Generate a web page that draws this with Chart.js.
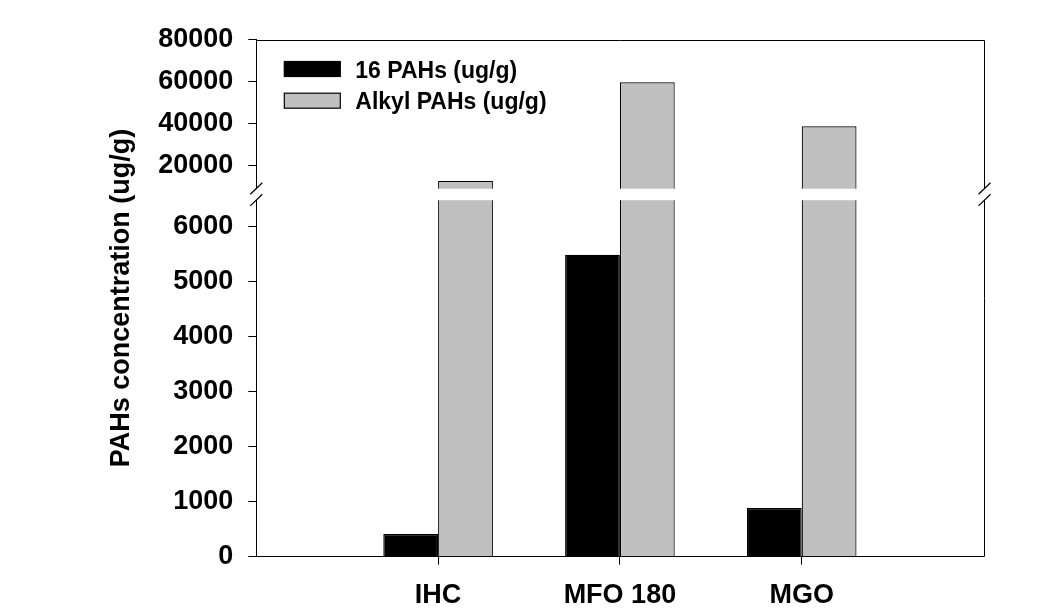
<!DOCTYPE html>
<html>
<head>
<meta charset="utf-8">
<script src="https://cdn.jsdelivr.net/npm/chart.js@4/dist/chart.umd.min.js"></script>
<style>
  html, body { margin: 0; padding: 0; background: #fff; }
  #wrap { width: 1052px; height: 611px; }
</style>
</head>
<body>
<div id="wrap"><canvas id="pahChart"></canvas></div>
<script>
// data
var categories = ['IHC', 'MFO 180', 'MGO'];
var pahs16 = [413, 5490, 885];
var alkylPahs = [12500, 59600, 38600];
var lowerTicks = [0, 1000, 2000, 3000, 4000, 5000, 6000];
var upperTicks = [20000, 40000, 60000, 80000];

// blank slots at both ends so the groups sit at 1/4, 2/4, 3/4 of the width
var labels = [''].concat(categories, ['']);
function pad(arr) { return [null].concat(arr, [null]); }

var tickFont = { family: 'Liberation Sans', size: 27, weight: 'bold' };

var breakPlugin = {
    id: 'breakPlugin',
    beforeDatasetDraw: function(chart, args) {
        var ys = args.meta.yScale, area = chart.chartArea;
        chart.ctx.save();
        chart.ctx.beginPath();
        chart.ctx.rect(area.left, ys.top, area.right - area.left, ys.bottom - ys.top);
        chart.ctx.clip();
    },
    afterDatasetDraw: function(chart) {
        chart.ctx.restore();
    },
    afterDraw: function(chart) {
        var ctx = chart.ctx, area = chart.chartArea;
        var yb = chart.scales.y.top + 0.5;
        ctx.save();
        ctx.strokeStyle = '#000';
        ctx.lineWidth = 1;
        // top + right frame
        var r = Math.round(area.right) + 0.5, t = Math.round(area.top) + 0.5;
        ctx.beginPath();
        ctx.moveTo(area.left, t);
        ctx.lineTo(r, t);
        ctx.lineTo(r, area.bottom);
        ctx.stroke();
        // white gap across the break
        ctx.fillStyle = '#fff';
        ctx.fillRect(area.left - 2, yb - 5.5, area.right - area.left + 4, 11.5);
        // break marks on both axes
        ctx.lineWidth = 1.2;
        [area.left, r].forEach(function(x) {
            ctx.beginPath();
            ctx.moveTo(x - 6, yb);
            ctx.lineTo(x + 6, yb - 11.5);
            ctx.moveTo(x - 6, yb + 11.7);
            ctx.lineTo(x + 6, yb);
            ctx.stroke();
        });

        // legend inside the plot, top-left
        ctx.lineWidth = 1.2;
        ctx.font = 'bold 23px "Liberation Sans"';
        ctx.textBaseline = 'alphabetic';
        ctx.textAlign = 'left';
        chart.data.datasets.slice(0, 2).forEach(function(ds, i) {
            var bx = area.left + 28, by = area.top + 22 + i * 31.7;
            ctx.fillStyle = ds.backgroundColor;
            ctx.fillRect(bx, by, 56, 15);
            ctx.strokeStyle = ds.borderColor;
            ctx.strokeRect(bx, by, 56, 15);
            ctx.fillStyle = '#000';
            ctx.fillText(ds.label, bx + 71, by + 16);
        });
        ctx.restore();
    }
};

function fixTicks(values) {
    return function(scale) {
        scale.ticks = values.map(function(v) { return { value: v }; });
    };
}

function yTicks() {
    return {
        color: '#000',
        font: tickFont,
        padding: 15,
        autoSkip: false,
        callback: function(v) { return String(v); }
    };
}

new Chart(document.getElementById('pahChart'), {
    type: 'bar',
    data: {
        labels: labels,
        datasets: [
            {
                label: '16 PAHs (ug/g)',
                data: pad(pahs16),
                yAxisID: 'y',
                stack: 'a',
                backgroundColor: '#000000',
                borderColor: '#000000',
                borderWidth: 1.2
            },
            {
                label: 'Alkyl PAHs (ug/g)',
                data: pad(alkylPahs),
                yAxisID: 'y',
                stack: 'b',
                backgroundColor: '#c0c0c0',
                borderColor: '#000000',
                borderWidth: 1.2
            },
            {
                label: 'Alkyl PAHs upper',
                data: pad(alkylPahs),
                yAxisID: 'y2',
                stack: 'b',
                backgroundColor: '#c0c0c0',
                borderColor: '#000000',
                borderWidth: 1.2
            }
        ]
    },
    options: {
        animation: false,
        responsive: true,
        maintainAspectRatio: false,
        devicePixelRatio: 1,
        layout: {
            padding: { left: 90, right: 68.5, top: 39.5, bottom: 1.5 }
        },
        datasets: {
            bar: {
                categoryPercentage: 0.603,
                barPercentage: 1.0
            }
        },
        plugins: {
            tooltip: { enabled: false },
            legend: { display: false },
            title: {
                display: true,
                position: 'left',
                fullSize: false,
                text: 'PAHs concentration (ug/g)',
                color: '#000',
                font: { family: 'Liberation Sans', size: 27, weight: 'bold', lineHeight: 1.2 },
                padding: { top: 15, bottom: 5 }
            }
        },
        scales: {
            x: {
                type: 'category',
                offset: false,
                border: { color: '#000', width: 1 },
                grid: {
                    offset: false,
                    drawOnChartArea: false,
                    drawTicks: true,
                    tickLength: 8,
                    color: function(ctx) {
                        return ctx.tick && ctx.tick.label ? '#000' : 'rgba(0,0,0,0)';
                    }
                },
                ticks: {
                    color: '#000',
                    font: tickFont,
                    padding: 15,
                    maxRotation: 0,
                    autoSkip: false
                },
                afterFit: function(scale) { scale.height = 52.8; }
            },
            y: {
                type: 'linear',
                position: 'left',
                stack: 'yStack',
                stackWeight: 363,
                stacked: false,
                min: 0,
                max: 6600,
                border: { color: '#000', width: 1 },
                grid: { drawOnChartArea: false, tickLength: 8, color: '#000' },
                ticks: yTicks(),
                afterBuildTicks: fixTicks(lowerTicks),
                afterFit: function(scale) { scale.width = 113.9; }
            },
            y2: {
                type: 'linear',
                position: 'left',
                stack: 'yStack',
                stackWeight: 154.2,
                stacked: false,
                min: 6400,
                max: 80000,
                border: { color: '#000', width: 1 },
                grid: { drawOnChartArea: false, tickLength: 8, color: '#000' },
                ticks: yTicks(),
                afterBuildTicks: fixTicks(upperTicks),
                afterFit: function(scale) { scale.width = 113.9; }
            }
        }
    },
    plugins: [breakPlugin, {
        id: 'whiteBg',
        beforeDraw: function(chart) {
            var ctx = chart.canvas.getContext('2d');
            ctx.save();
            ctx.globalCompositeOperation = 'destination-over';
            ctx.fillStyle = 'white';
            ctx.fillRect(0, 0, chart.canvas.width, chart.canvas.height);
            ctx.restore();
        }
    }]
});
</script>
</body>
</html>
